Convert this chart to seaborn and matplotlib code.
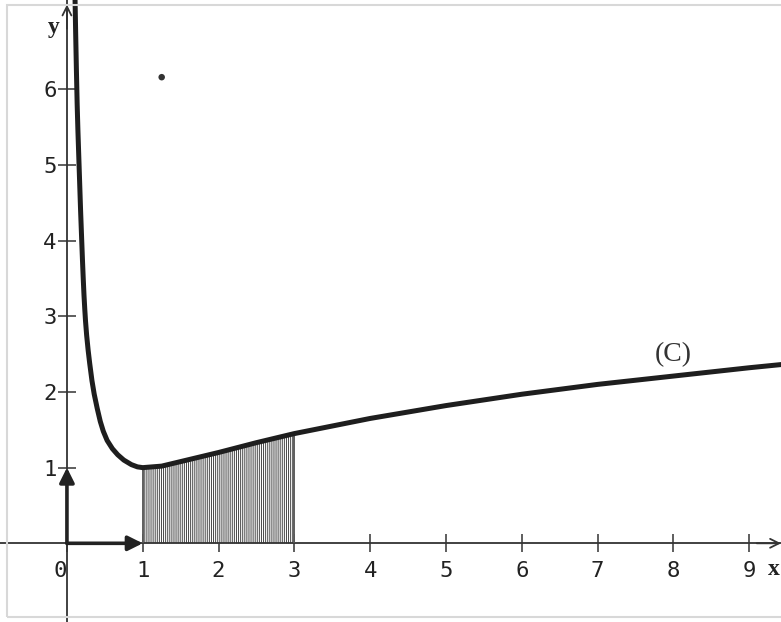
import matplotlib
matplotlib.use("Agg")
import pandas as pd
import matplotlib.pyplot as plt
import seaborn as sns
from matplotlib.patches import Rectangle

# curve (C), values
x_vals = [0.105, 0.115, 0.125, 0.135, 0.145, 0.155, 0.165, 0.18, 0.195, 0.205,
          0.215, 0.225, 0.235, 0.245, 0.26, 0.28, 0.30, 0.33, 0.36, 0.40, 0.44,
          0.48, 0.53, 0.60, 0.67, 0.75, 0.85, 0.93, 1.00, 1.25, 1.50, 2.00,
          2.50, 3.00, 3.50, 4.00, 5.00, 6.00, 7.00, 8.00, 9.00, 9.50]
y_vals = [7.30, 6.75, 6.25, 5.80, 5.45, 5.15, 4.85, 4.40, 4.00, 3.74,
          3.50, 3.28, 3.10, 2.94, 2.75, 2.55, 2.38, 2.15, 1.97, 1.78, 1.61,
          1.48, 1.36, 1.25, 1.17, 1.10, 1.04, 1.01, 1.00, 1.02, 1.08, 1.20,
          1.33, 1.45, 1.55, 1.65, 1.82, 1.97, 2.10, 2.21, 2.32, 2.37]
x_ticks = [0, 1, 2, 3, 4, 5, 6, 7, 8, 9]
y_ticks = [1, 2, 3, 4, 5, 6]
area_from, area_to = 1, 3
dot_x, dot_y = 1.25, 6.16
curve_label = "(C)"

sns.set_theme(style="white")
plt.rcParams['font.family'] = ['DejaVu Sans Mono', 'DejaVu Sans']
plt.rcParams['hatch.linewidth'] = 0.7

fig = plt.figure(figsize=(7.81, 6.22), dpi=100)
ax = fig.add_axes([0, 0, 1, 1])
ax.set_facecolor("white")

curve = pd.DataFrame({"x": x_vals, "y": y_vals})
sns.lineplot(data=curve, x="x", y="y", ax=ax, color="#1e1e1e", linewidth=3.6,
             sort=False, estimator=None, zorder=5)

# hatched area between 1 and 3
shade = curve[(curve.x >= area_from) & (curve.x <= area_to)]
ax.fill_between(shade.x, 0, shade.y, facecolor="white", edgecolor="#444444",
                hatch="|" * 8, linewidth=0, zorder=2)
ax.vlines([shade.x.iloc[0], shade.x.iloc[-1]], 0,
          [shade.y.iloc[0], shade.y.iloc[-1]], color="#555555", lw=1.3, zorder=3)

# unit vectors
vec = dict(arrowstyle="-|>", color="#222222", lw=2.6, mutation_scale=22,
           shrinkA=0, shrinkB=0)
ax.annotate("", xy=(1, 0), xytext=(0, 0), arrowprops=vec, zorder=6)
ax.annotate("", xy=(0, 1), xytext=(0, 0), arrowprops=vec, zorder=6)

sns.scatterplot(x=[dot_x], y=[dot_y], ax=ax, color="#333333", s=22,
                edgecolor="none", zorder=6)

# axes through the origin
for side in ["top", "right"]:
    ax.spines[side].set_visible(False)
for side in ["left", "bottom"]:
    ax.spines[side].set_position(("data", 0))
    ax.spines[side].set_color("#333333")
    ax.spines[side].set_linewidth(1.3)

ax.set_xlim(-0.883, 9.42)
ax.set_ylim(-1.04, 7.18)
ax.set_xticks(x_ticks)
ax.set_yticks(y_ticks)
ax.set_xticklabels([str(t) for t in x_ticks])
ax.set_yticklabels([str(t) for t in y_ticks])
ax.get_xticklabels()[0].set_ha("right")
ax.tick_params(bottom=True, left=True, direction="inout", length=13, width=1.1,
               color="#333333", labelsize=16, labelcolor="#222222")
ax.tick_params(axis="x", pad=6)
ax.tick_params(axis="y", pad=1)
ax.set_xlabel("")
ax.set_ylabel("")

axis_arrow = dict(arrowstyle="->", color="#333333", lw=1.3, mutation_scale=16,
                  shrinkA=0, shrinkB=0)
ax.annotate("", xy=(0, 7.12), xytext=(0, 6.8), arrowprops=axis_arrow)
ax.annotate("", xy=(9.42, 0), xytext=(9.1, 0), arrowprops=axis_arrow)

ax.text(8.0, 2.49, curve_label, family="Liberation Serif", fontsize=20,
        color="#333333", ha="center", va="center")
ax.text(-0.17, 6.82, "y", family="Liberation Serif", fontsize=17,
        fontweight="bold", color="#222222", ha="center", va="center")
ax.text(9.40, -0.35, "x", family="Liberation Serif", fontsize=17,
        fontweight="bold", color="#222222", ha="right", va="center")

fig.patches.append(Rectangle((7 / 781, 5 / 622), 1.0, 612 / 622,
                             transform=fig.transFigure, fill=False,
                             edgecolor="#d8d8d8", lw=1.5))

fig.savefig("out.png", dpi=100)
